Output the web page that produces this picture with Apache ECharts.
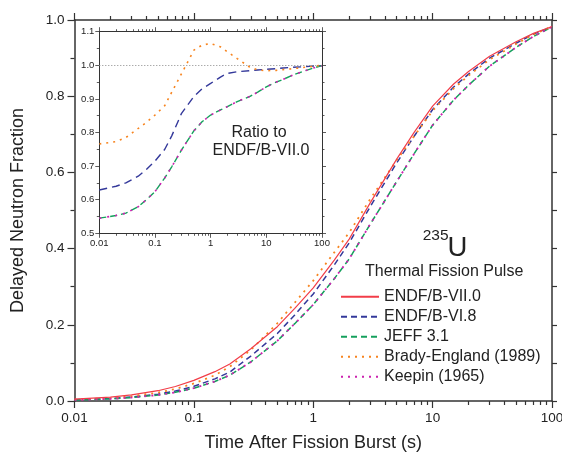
<!DOCTYPE html>
<html><head><meta charset="utf-8">
<script src="https://cdn.jsdelivr.net/npm/echarts@6/dist/echarts.min.js"></script>
<style>html,body{margin:0;padding:0;background:#fff}#c{width:562px;height:452px}</style>
</head><body><div id="c"></div>
<script>
// ---- data ----
var times = [0.01,0.02,0.03,0.05,0.07,0.1,0.15,0.2,0.3,0.5,0.7,1,1.5,2,3,5,7,10,15,20,30,50,70,100];
var endf7  = [0.005,0.010,0.016,0.027,0.038,0.054,0.077,0.097,0.137,0.195,0.243,0.297,0.370,0.425,0.520,0.635,0.705,0.774,0.832,0.865,0.905,0.943,0.965,0.983];
var endf6  = [0.0031,0.0064,0.0104,0.018,0.026,0.0386,0.058,0.076,0.118,0.177,0.226,0.281,0.357,0.415,0.510,0.625,0.695,0.765,0.824,0.858,0.900,0.939,0.963,0.982];
var jeff   = [0.0027,0.0055,0.009,0.0156,0.0228,0.0337,0.0512,0.0677,0.1025,0.158,0.203,0.253,0.321,0.373,0.464,0.576,0.649,0.724,0.790,0.829,0.879,0.928,0.957,0.982];
var brady  = [0.0038,0.0077,0.0126,0.0219,0.0315,0.046,0.0677,0.090,0.134,0.204,0.258,0.316,0.390,0.442,0.530,0.632,0.695,0.762,0.820,0.854,0.896,0.937,0.962,0.983];
var keepin = [0.0027,0.0055,0.009,0.0156,0.0228,0.0337,0.0512,0.0677,0.1025,0.158,0.203,0.253,0.321,0.373,0.464,0.576,0.649,0.724,0.790,0.829,0.879,0.928,0.957,0.982];
var ratioB6    = [0.629,0.640,0.650,0.670,0.690,0.715,0.750,0.790,0.857,0.907,0.930,0.946,0.965,0.976,0.981,0.984,0.986,0.988,0.990,0.992,0.994,0.996,0.998,0.999];
var ratioJEFF  = [0.545,0.553,0.560,0.579,0.600,0.624,0.665,0.698,0.748,0.805,0.832,0.852,0.867,0.877,0.892,0.907,0.920,0.936,0.950,0.958,0.971,0.984,0.992,0.999];
var ratioBrady = [0.766,0.773,0.785,0.812,0.830,0.852,0.880,0.920,0.975,1.045,1.060,1.065,1.055,1.040,1.020,0.995,0.986,0.984,0.985,0.987,0.990,0.994,0.997,1.000];
var ratioKeepin= [0.545,0.553,0.560,0.579,0.600,0.624,0.665,0.698,0.748,0.805,0.832,0.852,0.867,0.877,0.892,0.907,0.920,0.936,0.950,0.958,0.971,0.984,0.992,0.999];
var minorTicks = [0.02,0.03,0.04,0.05,0.06,0.07,0.08,0.09,0.2,0.3,0.4,0.5,0.6,0.7,0.8,0.9,2,3,4,5,6,7,8,9,20,30,40,50,60,70,80,90];
var names = ['ENDF/B-VII.0','ENDF/B-VI.8','JEFF 3.1','Brady-England (1989)','Keepin (1965)'];

function pairs(ys){ return times.map(function(t,i){ return [t, ys[i]]; }); }
var FONT = "'Liberation Sans', Arial, sans-serif";
var TXT = '#222';
var C = {red:'#f23d48', blue:'#33389a', green:'#14a05c', orange:'#f7841f', mag:'#cc22b0'};

function logFmt(v){ return String(+Number(v).toPrecision(6)); }

function xAx(grid, pos, major, big){
  var o = {type:'log', logBase:10, min:0.01, max:100, gridIndex:grid, position:pos, interval:1,
    splitLine:{show:false},
    axisLine:{show:major, lineStyle:{color:'#333', width: big?1.5:1}},
    axisLabel:{show: major && pos==='bottom', formatter:logFmt, color:TXT, fontFamily:FONT,
      fontSize: big?13.5:9.5, margin: big?10:5},
    axisTick:{show:true, length: major ? (big?7:4.5) : (big?4:2.5), lineStyle:{color:'#333', width: big?1.2:0.8}}
  };
  if(!major){ o.axisTick.customValues = minorTicks; }
  return o;
}

var xAxes = [
  Object.assign(xAx(0,'bottom',true,true), {name:'Time After Fission Burst (s)', nameLocation:'middle', nameGap:33.5,
     nameTextStyle:{fontSize:18, color:TXT, fontFamily:FONT}}),
  xAx(0,'bottom',false,true),
  xAx(0,'top',true,true),
  xAx(0,'top',false,true),
  xAx(1,'bottom',true,false),
  xAx(1,'bottom',false,false),
  xAx(1,'top',true,false),
  xAx(1,'top',false,false)
];

var yAxes = [
  {type:'value', gridIndex:0, position:'left', min:0, max:1, interval:0.2,
   name:'Delayed Neutron Fraction', nameLocation:'middle', nameGap:47, nameRotate:90,
   nameTextStyle:{fontSize:18, color:TXT, fontFamily:FONT},
   axisLine:{show:true, lineStyle:{color:'#333', width:1.5}},
   axisTick:{length:7, lineStyle:{color:'#333', width:1.2}},
   minorTick:{show:true, splitNumber:2, length:4, lineStyle:{color:'#333', width:1.2}},
   axisLabel:{formatter:function(v){return v.toFixed(1);}, color:TXT, fontFamily:FONT, fontSize:13.5, margin:10},
   splitLine:{show:false}},
  {type:'value', gridIndex:0, position:'right', min:0, max:1, interval:0.1,
   axisLine:{show:true, lineStyle:{color:'#333', width:1.5}},
   axisTick:{length:5, lineStyle:{color:'#333', width:1.2}},
   axisLabel:{show:false}, splitLine:{show:false}},
  {type:'value', gridIndex:1, position:'left', min:0.5, max:1.1, interval:0.1,
   axisLine:{show:true, lineStyle:{color:'#333', width:1}},
   axisTick:{length:4, lineStyle:{color:'#333', width:0.8}},
   minorTick:{show:true, splitNumber:2, length:2.5, lineStyle:{color:'#333', width:0.8}},
   axisLabel:{formatter:function(v){return v.toFixed(1);}, color:TXT, fontFamily:FONT, fontSize:9.5, margin:5},
   splitLine:{show:false}},
  {type:'value', gridIndex:1, position:'right', min:0.5, max:1.1, interval:0.1,
   axisLine:{show:true, lineStyle:{color:'#333', width:1}},
   axisTick:{length:4, lineStyle:{color:'#333', width:0.8}},
   minorTick:{show:true, splitNumber:2, length:2.5, lineStyle:{color:'#333', width:0.8}},
   axisLabel:{show:false}, splitLine:{show:false}}
];

function ln(name, data, color, type, width, xi, yi, z){
  return {type:'line', name:name, data:pairs(data), xAxisIndex:xi, yAxisIndex:yi, symbol:'none',
    smooth:false, silent:true, z:z||2, lineStyle:{color:color, type:type, width:width}, itemStyle:{color:color}};
}

var series = [
  ln(names[0], endf7, C.red, 'solid', 1.2, 0, 0, 5),
  ln(names[1], endf6, C.blue, [6,4], 1.5, 0, 0, 3),
  ln(names[2], jeff, C.green, [6,4], 1.5, 0, 0, 3),
  ln(names[3], brady, C.orange, [2,5], 1.8, 0, 0, 4),
  ln(names[4], keepin, C.mag, [2,5], 1.8, 0, 0, 4),
  ln('r6', ratioB6, C.blue, [8,5], 1.4, 4, 2, 3),
  ln('rj', ratioJEFF, C.green, [7,4], 1.4, 4, 2, 3),
  ln('rb', ratioBrady, C.orange, [2,5], 1.6, 4, 2, 4),
  ln('rk', ratioKeepin, C.mag, [2,6], 1.6, 4, 2, 4)
];
series[5].markLine = {silent:true, symbol:'none', label:{show:false},
  lineStyle:{color:'#888', type:[1,2], width:1}, data:[{yAxis:1}]};

var option = {
  animation:false,
  backgroundColor:'#fff',
  grid:[
    {left:74.5, right:10, top:20, bottom:51, containLabel:false, outerBoundsMode:'none'},
    {left:99.3, top:31.7, width:222.7, height:201.6, containLabel:false, outerBoundsMode:'none'}
  ],
  xAxis:xAxes,
  yAxis:yAxes,
  legend:{orient:'vertical', left:340, top:286.7, padding:0, itemWidth:38, itemHeight:20, itemGap:0,
    data:names, selectedMode:false, itemStyle:{opacity:0, borderWidth:0},
    textStyle:{fontSize:16, lineHeight:20, color:TXT, fontFamily:FONT}},
  graphic:[
    {type:'text', x:422.7, y:236, style:{text:'235', fontSize:15.5, fontFamily:FONT, fill:TXT, align:'left', verticalAlign:'middle'}},
    {type:'text', x:447.5, y:248.3, style:{text:'U', fontSize:27.5, fontFamily:FONT, fill:TXT, align:'left', verticalAlign:'middle'}},
    {type:'text', x:365, y:271.3, style:{text:'Thermal Fission Pulse', fontSize:16, fontFamily:FONT, fill:TXT, align:'left', verticalAlign:'middle'}},
    {type:'text', x:259, y:132.5, style:{text:'Ratio to', fontSize:16, fontFamily:FONT, fill:TXT, align:'center', verticalAlign:'middle'}},
    {type:'text', x:261, y:150.5, style:{text:'ENDF/B-VII.0', fontSize:16, fontFamily:FONT, fill:TXT, align:'center', verticalAlign:'middle'}}
  ],
  series:series
};
var chart = echarts.init(document.getElementById('c'), null, {renderer:'canvas'});
chart.setOption(option);
</script></body></html>
